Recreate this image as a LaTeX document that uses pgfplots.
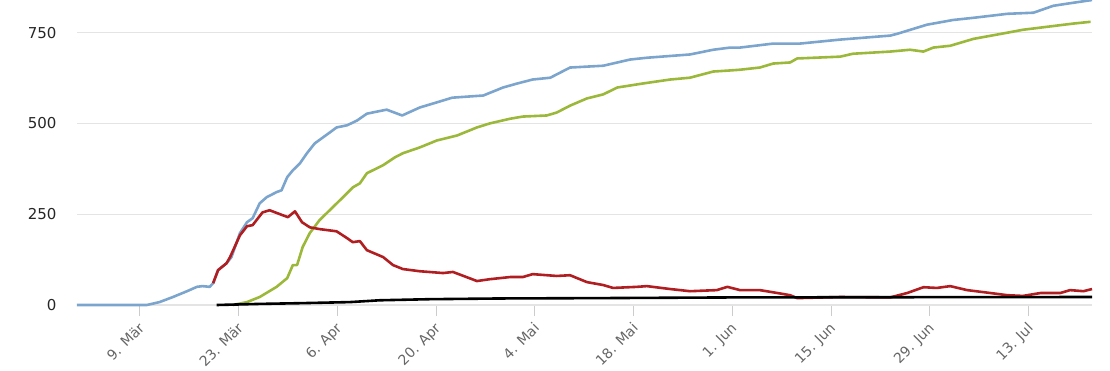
\documentclass[border=0pt]{standalone}
\usepackage{fontspec}
\setmainfont{DejaVu Sans}
\usepackage{pgfplots}
\pgfplotsset{compat=1.18}
\definecolor{cblue}{HTML}{7CA5CE}
\definecolor{cgreen}{HTML}{9BB83A}
\definecolor{cred}{HTML}{B01E22}
\definecolor{cgrid}{HTML}{E4E4E4}
\begin{document}
\begin{tikzpicture}
\begin{axis}[
  scale only axis, width=1015pt, height=305pt,
  xmin=-8.9, xmax=135.0, ymin=0, ymax=840,
  clip=false,
  axis x line*=bottom, axis y line*=left,
  y axis line style={draw=none},
  x axis line style={draw=cgrid, line width=1.2pt},
  xtick={0,14,...,126},
  xticklabels={9. Mär, 23. Mär, 6. Apr, 20. Apr, 4. Mai, 18. Mai, 1. Jun, 15. Jun, 29. Jun, 13. Jul},
  xtick align=outside, major tick length=11pt,
  xtick style={draw=gray!40, line width=1pt},
  ytick={0,250,500,750}, ytick style={draw=none},
  ymajorgrids, grid style={draw=cgrid, line width=1.2pt},
  /pgf/number format/assume math mode=true,
  yticklabel style={font=\fontsize{15}{17}\selectfont, text=black!85, xshift=-17pt},
  xticklabel style={font=\fontsize{14}{16}\selectfont, text=black!60, rotate=45, anchor=north east, xshift=-2pt, yshift=1pt},
  every axis plot/.append style={line width=2.6pt, line join=round},
]
\addplot[cblue] coordinates {
(-8.9,0)(1.0,0)(2.8,8)(4.7,22)(6.7,38)(8.1,50)(8.9,52)(9.9,50)(10.4,60)(11.1,96)(12.3,115)(13.0,132)
(14.2,198)(15.2,228)(16.0,239)(17.0,280)(18.0,297)(19.4,311)(20.1,316)(20.9,352)(21.7,371)(22.7,390)
(23.7,418)(24.8,445)(26.0,462)(27.0,476)(27.9,489)(29.4,495)(30.8,508)(32.2,527)(35.0,538)(37.2,522)
(39.7,544)(42.1,558)(44.3,571)(48.7,577)(51.5,599)(53.5,610)(55.7,621)(58.2,626)(61.0,654)(65.7,659)
(69.5,676)(71.9,681)(78.0,690)(81.3,703)(83.7,709)(85.1,709)(89.8,720)(93.6,720)(99.3,731)(106.4,742)
(107.4,747)(111.6,772)(115.3,785)(118.2,791)(123.0,802)(126.7,805)(129.5,824)(131.5,830)(134.3,838)(135.0,840)
};
\addplot[cgreen] coordinates {
(13.2,0)(15.2,8)(17.0,22)(19.4,50)(20.9,74)(21.7,110)(22.3,110)(23.1,160)(24.1,198)(25.5,234)
(27.4,270)(29.4,308)(30.2,324)(31.2,335)(32.2,363)(34.5,385)(36.2,407)(37.3,418)(39.7,434)(42.1,453)
(45.0,467)(47.8,489)(49.6,500)(52.5,513)(54.3,519)(57.7,522)(59.1,530)(61.0,549)(63.4,569)(65.7,580)
(67.7,599)(71.3,610)(75.2,621)(78.0,626)(81.3,643)(83.7,646)(85.1,648)(87.9,654)(89.8,665)(92.2,668)
(93.2,679)(99.3,684)(101.1,692)(106.4,698)(109.2,703)(111.1,698)(112.5,709)(114.9,714)(118.2,733)
(123.0,750)(125.2,758)(127.7,764)(132.3,775)(134.8,780)
};
\addplot[cred] coordinates {
(10.4,60)(11.1,96)(12.3,115)(12.8,132)(14.2,192)(15.2,217)(16.0,220)(17.4,255)(18.4,261)(20.3,247)
(21.0,242)(22.0,258)(23.0,228)(24.1,214)(25.5,209)(27.9,203)(29.4,184)(30.2,173)(31.2,176)(32.2,151)
(34.5,132)(35.9,110)(37.3,99)(39.7,93)(43.0,88)(44.4,91)(47.8,66)(49.6,71)(52.5,77)(54.3,77)(55.7,85)
(59.1,80)(61.0,82)(63.4,63)(65.7,55)(67.1,47)(70.5,50)(71.9,52)(75.2,44)(78.0,38)(81.8,41)(83.3,50)
(85.1,41)(87.9,41)(90.4,33)(92.2,27)(93.2,19)(99.3,22)(106.4,21)(108.8,33)(111.1,49)(113.0,47)
(114.9,52)(117.3,41)(120.6,33)(123.0,27)(125.2,25)(127.7,33)(130.5,33)(131.9,41)(133.8,38)(135.0,44)
};
\addplot[black] coordinates {
(10.9,0)(17.0,3)(22.7,5)(29.8,8)(34.0,13)(41.1,16)(51.1,18)(65.2,19)(85.1,21)(135.0,22)
};
\end{axis}
\pgfresetboundingbox
\path (current axis.south west) ++(-77pt,-65pt) rectangle ++(1110pt,370pt);
\end{tikzpicture}
\end{document}
